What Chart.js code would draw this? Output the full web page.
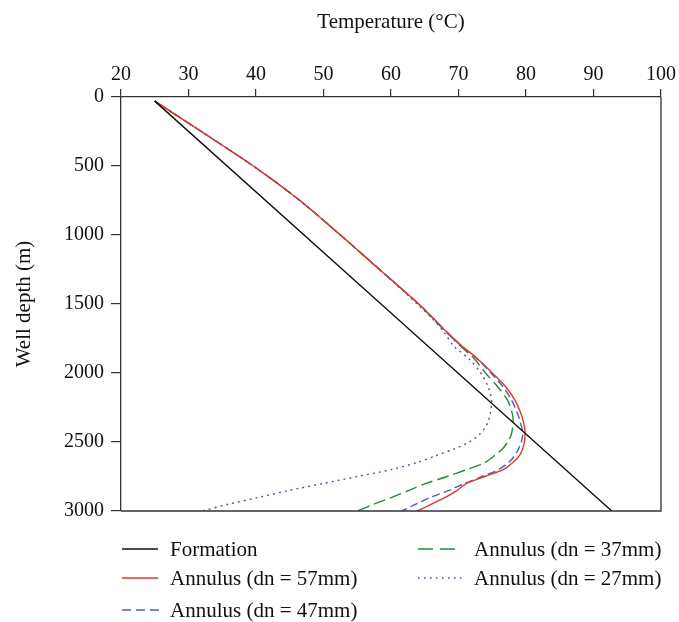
<!DOCTYPE html>
<html><head><meta charset="utf-8">
<script src="https://cdn.jsdelivr.net/npm/chart.js@4/dist/chart.umd.min.js"></script>
<style>
body{margin:0;background:#fff}
#wrap{position:relative;width:679px;height:622px}
.leg{position:absolute;font:21px "Liberation Serif",serif;color:#111;line-height:24px;white-space:nowrap}
.leg svg{position:absolute;left:0;top:10px}
.leg span{position:absolute;top:0}
</style></head><body>
<div id="wrap"><canvas id="c" width="679" height="622"></canvas><div id="legend"></div></div>
<script>
// Data
const depths = [30, 250, 500, 750, 1000, 1250, 1500, 1600, 1700, 1800, 1900, 2000, 2100, 2200, 2300, 2350, 2400, 2450, 2500, 2550, 2600, 2650, 2700, 2750, 2800, 2850, 2900, 2950, 3000];
const formationDepth = [30, 3000];
const formationTemp = [25, 92.7];
const annulus57 = [25, 31.9, 39.6, 46.5, 52.5, 58.3, 64.1, 66.2, 68.2, 70.4, 72.9, 75.0, 77.0, 78.4, 79.3, 79.6, 79.8, 79.85, 79.75, 79.5, 79.0, 78.0, 76.6, 73.9, 71.2, 69.8, 68.1, 66.0, 63.9];
const annulus47 = [25, 31.9, 39.6, 46.5, 52.5, 58.3, 64.1, 66.2, 68.2, 70.3, 72.8, 74.8, 76.6, 77.9, 78.8, 79.1, 79.4, 79.5, 79.3, 78.9, 78.3, 77.4, 75.9, 73.5, 70.9, 68.6, 65.9, 63.7, 61.6];
const annulus37 = [25, 31.9, 39.6, 46.5, 52.5, 58.3, 64.1, 66.1, 68.1, 70.2, 72.4, 74.0, 75.8, 77.3, 78.0, 78.1, 78.0, 77.8, 77.3, 76.5, 75.3, 73.9, 71.2, 68.3, 65.2, 62.7, 60.2, 57.5, 55.0];
const annulus27 = [25, 31.9, 39.6, 46.5, 52.5, 58.3, 63.9, 66.0, 67.8, 69.2, 71.6, 73.3, 74.4, 74.9, 74.7, 74.4, 73.9, 73.0, 71.6, 69.4, 66.6, 63.8, 60.0, 55.0, 50.0, 45.0, 40.5, 36.0, 32.0];
const seriesNames = ['Formation', 'Annulus (dn = 57mm)', 'Annulus (dn = 47mm)', 'Annulus (dn = 37mm)', 'Annulus (dn = 27mm)'];
const xTicks = [20, 30, 40, 50, 60, 70, 80, 90, 100];
const yTicks = [0, 500, 1000, 1500, 2000, 2500, 3000];

const colors = ['#111111', '#e5352b', '#4f5fb5', '#1f8c3b', '#7d3f98'];
const dashes = [[], [], [8, 4], [12, 5], [2, 4]];
const FONT = '"Liberation Serif", serif';

function pts(temps, ds) { return temps.map((t, i) => ({x: t, y: ds[i]})); }
const seriesData = [
  pts(formationTemp, formationDepth),
  pts(annulus57, depths),
  pts(annulus47, depths),
  pts(annulus37, depths),
  pts(annulus27, depths)
];

const boxPlugin = {
  id: 'box',
  afterDatasetsDraw(chart) {
    const {ctx, chartArea: a} = chart;
    ctx.save();
    ctx.strokeStyle = '#333';
    ctx.lineWidth = 1.3;
    ctx.beginPath();
    ctx.moveTo(a.right, a.top);
    ctx.lineTo(a.right, a.bottom);
    ctx.lineTo(a.left, a.bottom);
    ctx.stroke();
    ctx.restore();
  }
};

new Chart(document.getElementById('c'), {
  type: 'scatter',
  data: {
    datasets: seriesData.map((d, i) => ({
      label: seriesNames[i],
      data: d,
      showLine: true,
      borderColor: colors[i],
      backgroundColor: colors[i],
      borderWidth: 1.4,
      borderDash: dashes[i],
      pointRadius: 0,
      tension: 0.3,
      fill: false
    }))
  },
  options: {
    responsive: false,
    animation: false,
    layout: {padding: {left: 0, right: 18, top: 0, bottom: 111}},
    plugins: {legend: {display: false}, tooltip: {enabled: false}},
    scales: {
      x: {
        type: 'linear', position: 'top', min: 20, max: 100,
        afterFit(s) { s.height = 97; },
        afterBuildTicks(s) { s.ticks = xTicks.map(v => ({value: v})); },
        ticks: {font: {family: FONT, size: 20}, color: '#111', padding: 2, maxRotation: 0, callback: v => String(v)},
        grid: {drawOnChartArea: false, drawTicks: true, tickLength: 8, color: '#333', lineWidth: 1.2},
        border: {display: true, color: '#333', width: 1.3},
        title: {display: true, text: 'Temperature (°C)', font: {family: FONT, size: 21}, color: '#111', padding: {top: 10, bottom: 0}}
      },
      y: {
        type: 'linear', min: 0, max: 3000, reverse: true,
        afterFit(s) { s.width = 121; },
        afterBuildTicks(s) { s.ticks = yTicks.map(v => ({value: v})); },
        ticks: {font: {family: FONT, size: 20}, color: '#111', padding: 7, callback: v => String(v)},
        grid: {drawOnChartArea: false, drawTicks: true, tickLength: 10, color: '#333', lineWidth: 1.2},
        border: {display: true, color: '#333', width: 1.3},
        title: {display: true, text: 'Well depth (m)', font: {family: FONT, size: 21}, color: '#111', padding: {top: 12, bottom: 0}}
      }
    }
  },
  plugins: [boxPlugin]
});

// HTML legend (two columns like the reference)
const legendPos = [[122, 537], [122, 566], [122, 598], [418, 537], [418, 566]];
const textOffset = [48, 48, 48, 56, 56];
const sampleW = [36, 36, 38, 44, 44];
const legendDash = ['', '', '9 5', '15 7', '1.6 4.4'];
const legend = document.getElementById('legend');
seriesNames.forEach((name, i) => {
  const d = document.createElement('div');
  d.className = 'leg';
  d.style.left = legendPos[i][0] + 'px';
  d.style.top = legendPos[i][1] + 'px';
  d.innerHTML = '<svg width="' + sampleW[i] + '" height="4"><line x1="0" y1="2" x2="' + sampleW[i] + '" y2="2" stroke="' + colors[i] + '" stroke-width="1.4"' + (legendDash[i] ? ' stroke-dasharray="' + legendDash[i] + '"' : '') + '/></svg><span style="left:' + textOffset[i] + 'px">' + name + '</span>';
  legend.appendChild(d);
});
</script>
</body></html>
